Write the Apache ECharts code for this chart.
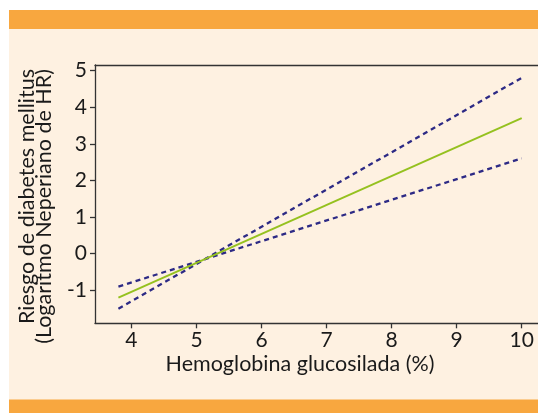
<!DOCTYPE html>
<html>
<head>
<meta charset="utf-8">
<script src="https://cdn.jsdelivr.net/npm/echarts@6/dist/echarts.min.js"></script>
<style>
  html, body { margin: 0; padding: 0; background: #ffffff; }
  #chart { width: 538px; height: 413px; }
</style>
</head>
<body>
<div id="chart"></div>
<script>
// Data
const xEnds = [3.8, 10];              // HbA1c (%) at the ends of the lines
const fitLine = [-1.2, 3.7];          // fitted log HR
const ciSteep = [-1.5, 4.8];          // confidence limit (steeper)
const ciFlat = [-0.9, 2.6];           // confidence limit (flatter)
const xTicks = [4, 5, 6, 7, 8, 9, 10];
const yTicks = [-1, 0, 1, 2, 3, 4, 5];
const xTitle = 'Hemoglobina glucosilada (%)';
const yTitle1 = 'Riesgo de diabetes mellitus';
const yTitle2 = '(Logaritmo Neperiano de HR)';

const FONT = 'Lato';
const pts = (ys) => xEnds.map((x, i) => [x, ys[i]]);
const AXIS = { color: '#333333', width: 1.3 };

const chart = echarts.init(document.getElementById('chart'), null, { renderer: 'canvas' });
chart.setOption({
  animation: false,
  backgroundColor: 'transparent',
  graphic: [
    { type: 'rect', z: -100, silent: true, shape: { x: 9, y: 10, width: 540, height: 400 }, style: { fill: '#fef1e1' } },
    { type: 'rect', z: -99, silent: true, shape: { x: 9, y: 10, width: 540, height: 19 }, style: { fill: '#f8a73f' } },
    { type: 'rect', z: -99, silent: true, shape: { x: 9, y: 399.5, width: 540, height: 14 }, style: { fill: '#f8a73f' } },
    { type: 'text', x: 300, y: 364, style: { text: xTitle, font: '21.5px ' + FONT, fill: '#1a1a1a', textAlign: 'center', textVerticalAlign: 'middle' } },
    { type: 'text', x: 27, y: 69, rotation: Math.PI / 2, style: { text: yTitle1, font: '21.5px ' + FONT, fill: '#1a1a1a', textAlign: 'right', textVerticalAlign: 'middle' } },
    { type: 'text', x: 44, y: 69, rotation: Math.PI / 2, style: { text: yTitle2, font: '21.5px ' + FONT, fill: '#1a1a1a', textAlign: 'right', textVerticalAlign: 'middle' } }
  ],
  grid: {
    left: 95, top: 65, bottom: 89.7, right: 0, show: false
  },
  xAxis: [{
    type: 'value', min: 3.44, max: 10.25,
    axisLine: { show: true, onZero: false, lineStyle: AXIS },
    splitLine: { show: false },
    axisTick: { show: true, length: 5, lineStyle: AXIS, customValues: xTicks },
    axisLabel: { customValues: xTicks, margin: 6, color: '#1a1a1a', fontFamily: FONT, fontSize: 21 }
  }, {
    type: 'value', position: 'top', min: 3.44, max: 10.25,
    axisLine: { show: true, onZero: false, lineStyle: AXIS },
    splitLine: { show: false }, axisTick: { show: false }, axisLabel: { show: false }
  }],
  yAxis: {
    type: 'value', min: -1.9, max: 5.15,
    axisLine: { show: true, onZero: false, lineStyle: AXIS },
    splitLine: { show: false },
    axisTick: { show: true, length: 5, lineStyle: AXIS, customValues: yTicks },
    axisLabel: { customValues: yTicks, margin: 8, color: '#1a1a1a', fontFamily: FONT, fontSize: 21 }
  },
  series: [
    { type: 'line', data: pts(ciSteep), symbol: 'none', lineStyle: { color: '#2d2a85', width: 2.3, type: [5, 4] } },
    { type: 'line', data: pts(ciFlat), symbol: 'none', lineStyle: { color: '#2d2a85', width: 2.3, type: [5, 4] } },
    { type: 'line', data: pts(fitLine), symbol: 'none', lineStyle: { color: '#95c11f', width: 2 } }
  ]
});
</script>
</body>
</html>
